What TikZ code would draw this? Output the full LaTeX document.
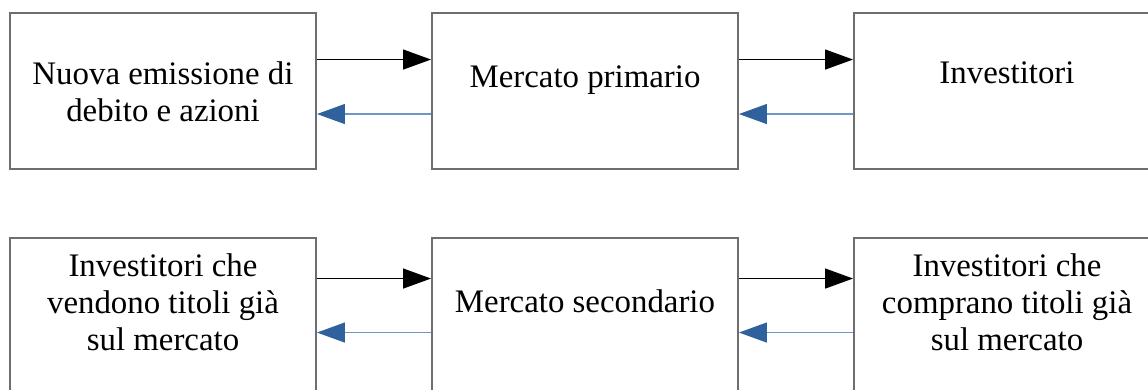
\documentclass[tikz,border=0pt]{standalone}
\usepackage{fontspec}
\setmainfont{Liberation Serif}
\usetikzlibrary{arrows.meta}
\definecolor{boxgray}{RGB}{110,110,110}
\definecolor{backblue}{RGB}{110,150,200}
\definecolor{tipblue}{RGB}{47,97,156}

\begin{document}
\begin{tikzpicture}[
    box/.style={draw=boxgray, line width=1.1pt, minimum width=6.12cm, minimum height=3.12cm, inner sep=0pt},
    txt/.style={align=center, font=\fontsize{18.7}{21}\selectfont},
    fwd/.style={line width=0.75pt, -{Triangle[length=5.6mm, width=4mm]}},
    back/.style={backblue, line width=0.75pt, -{Triangle[length=5.6mm, width=4mm, color=tipblue]}}
  ]
  \useasboundingbox (0,0) rectangle (22.96,-7.8);

  % primary market
  \node[box] (nuova) at (3.26, -1.82)  {};
  \node[box] (prim)  at (11.70, -1.82) {};
  \node[box] (inv)   at (20.14, -1.82) {};
  \node[txt] (nuovatxt) at (3.26, -1.84)  {Nuova emissione di\\debito e azioni};
  \node[txt] (primtxt)  at (11.70, -1.60) {Mercato primario};
  \node[txt] (invtxt)   at (20.14, -1.46) {Investitori};

  % secondary market
  \node[box] (vend) at (3.26, -6.32)  {};
  \node[box] (sec)  at (11.70, -6.32) {};
  \node[box] (comp) at (20.14, -6.32) {};
  \node[txt] (vendtxt) at (3.26, -6.04)  {Investitori che\\vendono titoli già\\sul mercato};
  \node[txt] (sectxt)  at (11.70, -6.03) {Mercato secondario};
  \node[txt] (comptxt) at (20.14, -6.04) {Investitori che\\comprano titoli già\\sul mercato};

  % top row arrows
  \draw[fwd]  ([yshift=-0.95cm]nuova.north east) -- ([yshift=-0.95cm]prim.north west);
  \draw[fwd]  ([yshift=-0.95cm]prim.north east)  -- ([yshift=-0.95cm]inv.north west);
  \draw[back] ([yshift=-2.04cm]prim.north west)  -- ([yshift=-2.04cm]nuova.north east);
  \draw[back] ([yshift=-2.04cm]inv.north west)   -- ([yshift=-2.04cm]prim.north east);

  % bottom row arrows
  \draw[fwd]  ([yshift=-0.83cm]vend.north east) -- ([yshift=-0.83cm]sec.north west);
  \draw[fwd]  ([yshift=-0.83cm]sec.north east)  -- ([yshift=-0.83cm]comp.north west);
  \draw[back] ([yshift=-1.91cm]sec.north west)  -- ([yshift=-1.91cm]vend.north east);
  \draw[back] ([yshift=-1.91cm]comp.north west) -- ([yshift=-1.91cm]sec.north east);
\end{tikzpicture}
\end{document}
